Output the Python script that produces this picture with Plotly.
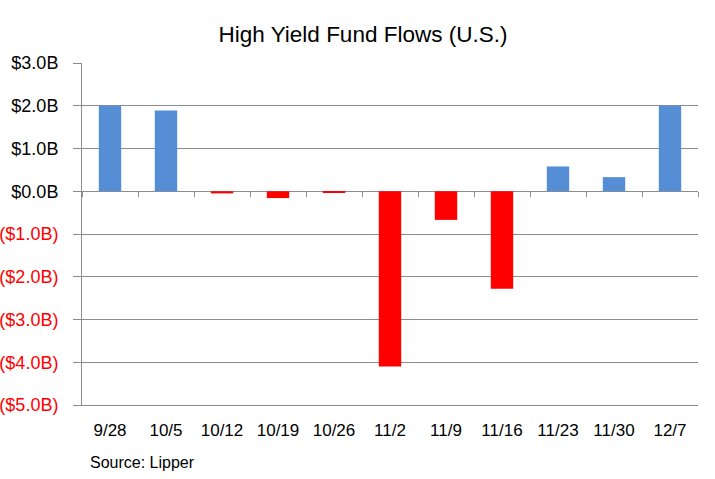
import plotly.graph_objects as go

categories = ["9/28", "10/5", "10/12", "10/19", "10/26", "11/2", "11/9", "11/16", "11/23", "11/30", "12/7"]
flows_b = [2.0, 1.89, -0.05, -0.16, -0.03, -4.1, -0.67, -2.28, 0.58, 0.33, 2.0]
y_tick_vals = [3, 2, 1, 0, -1, -2, -3, -4, -5]
y_tick_text = ["$3.0B", "$2.0B", "$1.0B", "$0.0B", "($1.0B)", "($2.0B)", "($3.0B)", "($4.0B)", "($5.0B)"]

BLUE = "#558ED5"
RED = "#FF0000"
GRID = "#8C8C8C"
FONT = "Liberation Sans Narrow, Arial Narrow, Liberation Sans, Arial, sans-serif"

colors = [BLUE if v >= 0 else RED for v in flows_b]
tick_text = [t if v >= 0 else f"<span style='color:{RED}'>{t}</span>" for v, t in zip(y_tick_vals, y_tick_text)]

fig = go.Figure()
fig.add_trace(go.Bar(x=categories, y=flows_b, marker=dict(color=colors, line=dict(width=0)),
                     hoverinfo="skip", showlegend=False))
fig.add_trace(go.Scatter(x=categories, y=flows_b, xaxis="x2", mode="markers",
                         marker=dict(opacity=0), hoverinfo="skip", showlegend=False))

ymin, ymax = -5, 3
fig.update_layout(
    width=715, height=479,
    margin=dict(l=82, r=17, t=63, b=74, autoexpand=False),
    paper_bgcolor="white", plot_bgcolor="white",
    bargap=0.6,
    title=dict(text="High Yield Fund Flows (U.S.)", x=363 / 715, xanchor="center",
               y=1 - 34 / 479, yanchor="middle", yref="container",
               font=dict(family=FONT, size=22.5, color="black")),
    font=dict(family=FONT, color="black"),
    xaxis=dict(type="category", categoryorder="array", categoryarray=categories,
               showgrid=False, zeroline=False, showline=True, linecolor=GRID, linewidth=1,
               ticks="", tickfont=dict(family=FONT, size=17, color="black"),
               ticklabelstandoff=10, range=[-0.5, 10.5], automargin=False),
    xaxis2=dict(type="category", categoryorder="array", categoryarray=categories,
                overlaying="x", anchor="free", position=(0 - ymin) / (ymax - ymin),
                matches="x", showgrid=False, zeroline=False, showline=False,
                showticklabels=False, ticks="outside", tickson="boundaries",
                ticklen=5, tickcolor=GRID, tickwidth=1, automargin=False),
    yaxis=dict(range=[ymin, ymax], tickvals=y_tick_vals, ticktext=tick_text,
               showgrid=True, gridcolor=GRID, gridwidth=1,
               zeroline=True, zerolinecolor=GRID, zerolinewidth=1,
               showline=True, linecolor=GRID, linewidth=1,
               ticks="outside", ticklen=8, tickcolor=GRID, tickwidth=1,
               ticklabelstandoff=11, automargin=False,
               tickfont=dict(family=FONT, size=18, color="black")),
    annotations=[dict(text="Source: Lipper", xref="paper", yref="paper",
                      x=6 / 616, y=-57 / 342,
                      xanchor="left", yanchor="middle", showarrow=False,
                      font=dict(family=FONT, size=16, color="black"))],
)

fig.write_html("out.html", config={"displayModeBar": False},
               post_script="document.body.style.margin='0';document.body.style.overflow='hidden';")
